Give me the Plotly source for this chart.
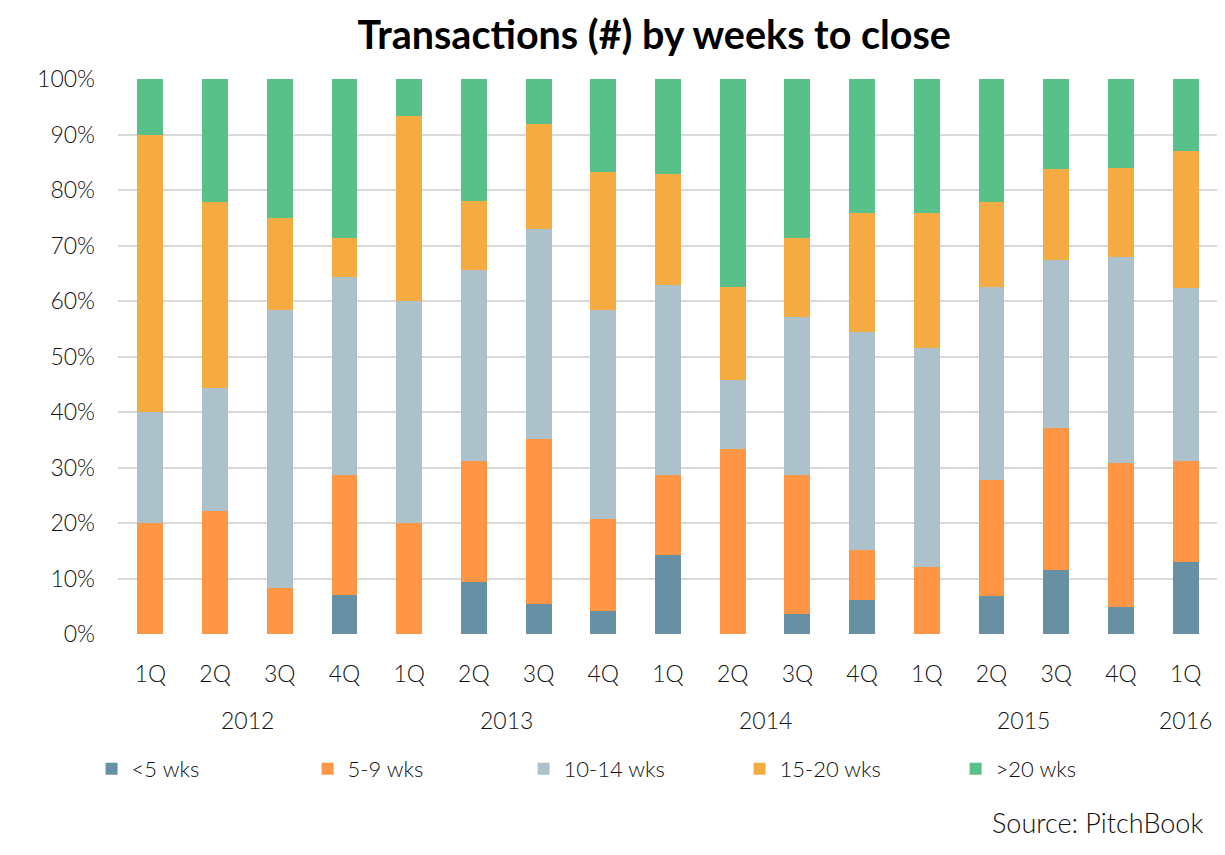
import plotly.graph_objects as go

years = ["2012"] * 4 + ["2013"] * 4 + ["2014"] * 4 + ["2015"] * 4 + ["2016"]
quarters = ["1Q", "2Q", "3Q", "4Q"] * 4 + ["1Q"]
y_ticks = [0, 10, 20, 30, 40, 50, 60, 70, 80, 90, 100]
y_labels = [f"{v}%" for v in y_ticks]

lt5 = [0, 0, 0, 7.1, 0, 9.4, 5.4, 4.2, 14.3, 0, 3.6, 6.1, 0, 6.8, 11.6, 4.9, 13.0]
w5_9 = [20.0, 22.2, 8.3, 21.5, 20.0, 21.8, 29.7, 16.6, 14.3, 33.3, 25.0, 9.1, 12.1, 20.9, 25.6, 25.9, 18.2]
w10_14 = [20.0, 22.2, 50.0, 35.7, 40.0, 34.4, 37.9, 37.5, 34.3, 12.5, 28.5, 39.3, 39.4, 34.8, 30.2, 37.1, 31.1]
w15_20 = [50.0, 33.4, 16.7, 7.1, 33.3, 12.5, 18.9, 25.0, 20.0, 16.7, 14.3, 21.3, 24.3, 15.3, 16.3, 16.0, 24.7]
gt20 = [10.0, 22.2, 25.0, 28.6, 6.7, 21.9, 8.1, 16.7, 17.1, 37.5, 28.6, 24.2, 24.2, 22.2, 16.3, 16.1, 13.0]

series = [
    ("&lt;5 wks", lt5, "#6790A4"),
    ("5-9 wks", w5_9, "#FF9645"),
    ("10-14 wks", w10_14, "#ADC1CB"),
    ("15-20 wks", w15_20, "#F4AB42"),
    ("&gt;20 wks", gt20, "#58C088"),
]

cats = [f"{y} {q}" for y, q in zip(years, quarters)]

TXT = dict(family="Lato", size=23, color="#111111", weight=300)

fig = go.Figure()
for name, vals, color in series:
    fig.add_trace(go.Bar(
        x=cats, y=vals, name=name,
        marker=dict(color=color, line=dict(width=0)),
    ))

# year group labels centred under their quarters
annotations = []
for yr in dict.fromkeys(years):
    idx = [i for i, y in enumerate(years) if y == yr]
    annotations.append(dict(text=yr, x=sum(idx) / len(idx), xref="x", y=-0.155, yref="paper",
                            xanchor="center", yanchor="middle", showarrow=False,
                            font=TXT))
annotations.append(dict(text="Source: PitchBook", xref="paper", yref="paper", x=0.988, y=-0.339,
                        xanchor="right", yanchor="middle", showarrow=False,
                        font=dict(TXT, size=27)))

fig.update_layout(
    barmode="stack",
    bargap=0.6,
    width=1217, height=847,
    margin=dict(l=110, r=7, t=71, b=221),
    paper_bgcolor="white", plot_bgcolor="white",
    font=TXT,
    title=dict(text="<b>Transactions (#) by weeks to close</b>", xref="container", x=0.531,
               xanchor="center", yref="container", y=0.968, yanchor="middle",
               font=dict(family="Lato", size=39.5, color="black")),
    legend=dict(orientation="h", x=-0.024, xanchor="left", y=-0.243, yanchor="middle",
                font=dict(TXT, size=22), entrywidth=171, entrywidthmode="pixels",
                traceorder="normal"),
    xaxis=dict(type="category", tickvals=cats, ticktext=quarters, showgrid=False,
               showline=False, ticks="", ticklabelstandoff=24, tickfont=TXT),
    yaxis=dict(range=[0, 100], tickvals=y_ticks, ticktext=y_labels,
               showgrid=True, gridcolor="#D9D9D9", gridwidth=1.5,
               zeroline=False, showline=False, ticks="", ticklabelstandoff=22,
               tickfont=TXT),
    annotations=annotations,
)

fig.write_html("out.html")
